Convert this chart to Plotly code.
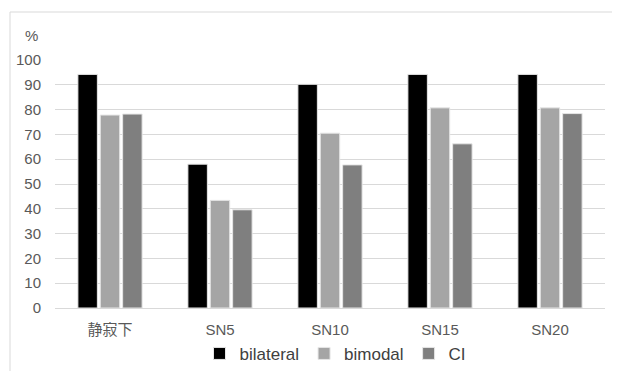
import plotly.graph_objects as go

categories = ["静寂下", "SN5", "SN10", "SN15", "SN20"]
bilateral = [94.2, 58.0, 90.2, 94.2, 94.2]
bimodal = [77.8, 43.4, 70.5, 80.7, 80.7]
ci = [78.2, 39.6, 57.7, 66.2, 78.4]
y_ticks = [0, 10, 20, 30, 40, 50, 60, 70, 80, 90, 100]

series = [("bilateral", bilateral, "#000000"),
          ("bimodal", bimodal, "#A5A5A5"),
          ("CI", ci, "#7F7F7F")]

fig = go.Figure()
for name, vals, col in series:
    fig.add_trace(go.Bar(x=categories, y=vals, name=name,
                         marker=dict(color=col, line=dict(color="#E6E6E6", width=1))))

font_fam = "Liberation Sans, Noto Sans CJK JP, sans-serif"
fig.update_layout(
    width=612, height=363,
    margin=dict(l=47, r=15, t=52, b=63, autoexpand=False),
    paper_bgcolor="white", plot_bgcolor="white",
    barmode="group", bargap=0.39, bargroupgap=0.13,
    font=dict(family=font_fam, size=15, color="#595959"),
    showlegend=True,
    legend=dict(orientation="h", x=0.51, xanchor="center", y=-0.185, yanchor="middle",
                font=dict(size=17, color="#404040"), itemwidth=30, traceorder="normal"),
    xaxis=dict(showgrid=False, showline=False, ticks="", tickfont=dict(size=15),
               ticklabelstandoff=11),
    yaxis=dict(range=[0, 100], tickvals=y_ticks, showgrid=True, gridcolor="#D9D9D9",
               gridwidth=1, zeroline=True, zerolinecolor="#D9D9D9", zerolinewidth=1,
               showline=False, ticks="", tickfont=dict(size=15), ticklabelstandoff=13),
    annotations=[dict(text="%", xref="paper", yref="paper", x=-0.027, y=1.1,
                      xanchor="right", yanchor="middle", showarrow=False,
                      font=dict(size=15, color="#595959"))],
    shapes=[
        dict(type="line", xref="paper", yref="paper", x0=-0.0818, x1=1.2,
             y0=1.1935, y1=1.1935, line=dict(color="#D9D9D9", width=1)),
        dict(type="line", xref="paper", yref="paper", x0=-0.0818, x1=-0.0818,
             y0=1.1935, y1=-0.4, line=dict(color="#D9D9D9", width=1)),
    ],
)

fig.write_html("out.html")
